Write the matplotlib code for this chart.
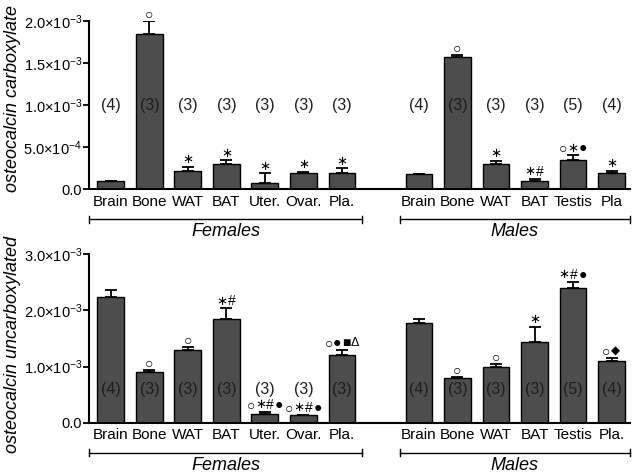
import matplotlib
matplotlib.use("Agg")
import matplotlib.pyplot as plt
import numpy as np
from matplotlib.transforms import blended_transform_factory

plt.rcParams['font.family'] = ['Liberation Sans', 'DejaVu Sans']
plt.rcParams['mathtext.fontset'] = 'custom'
plt.rcParams['mathtext.rm'] = 'Liberation Sans'
plt.rcParams['mathtext.it'] = 'Liberation Sans:italic'

# ---------------- data ----------------
cats_f = ['Brain', 'Bone', 'WAT', 'BAT', 'Uter.', 'Ovar.', 'Pla.']
cats_m_top = ['Brain', 'Bone', 'WAT', 'BAT', 'Testis', 'Pla']
cats_m_bot = ['Brain', 'Bone', 'WAT', 'BAT', 'Testis', 'Pla.']

carb_f = [1.0e-4, 1.845e-3, 2.21e-4, 2.97e-4, 7.5e-5, 1.97e-4, 1.94e-4]
carb_f_sem = [0.0, 1.55e-4, 4.7e-5, 5.1e-5, 1.19e-4, 1.2e-5, 5.5e-5]
carb_m = [1.82e-4, 1.575e-3, 3.0e-4, 9.9e-5, 3.48e-4, 1.94e-4]
carb_m_sem = [3e-6, 2.5e-5, 4.0e-5, 2.7e-5, 5.6e-5, 2.7e-5]

uncarb_f = [2.24e-3, 0.909e-3, 1.296e-3, 1.85e-3, 0.16e-3, 0.13e-3, 1.20e-3]
uncarb_f_sem = [0.12e-3, 0.036e-3, 0.054e-3, 0.19e-3, 0.036e-3, 0.012e-3, 0.096e-3]
uncarb_m = [1.777e-3, 0.80e-3, 1.0e-3, 1.438e-3, 2.40e-3, 1.10e-3]
uncarb_m_sem = [0.073e-3, 0.02e-3, 0.046e-3, 0.272e-3, 0.11e-3, 0.048e-3]

n_f = [4, 3, 3, 3, 3, 3, 3]
n_m = [4, 3, 3, 3, 5, 4]

sig_top_f = ['', '○', '∗', '∗', '∗', '∗', '∗']
sig_top_m = ['', '○', '∗', '∗#', '○∗●', '∗']
sig_bot_f = ['', '○', '○', '∗#', '○∗#●', '○∗#●', '○●■Δ']
sig_bot_m = ['', '○', '○', '∗', '∗#●', '○◆']

top_ticks = [0.0, 5.0e-4, 1.0e-3, 1.5e-3, 2.0e-3]
top_ticklabels = ['0.0', '5.0×10$^{-4}$', '1.0×10$^{-3}$', '1.5×10$^{-3}$', '2.0×10$^{-3}$']
bot_ticks = [0.0, 1.0e-3, 2.0e-3, 3.0e-3]
bot_ticklabels = ['0.0', '1.0×10$^{-3}$', '2.0×10$^{-3}$', '3.0×10$^{-3}$']

# symbol glyph styles: size (pt), advance (pt)
SYM_SIZE = {'○': 10, '●': 10, '■': 10, 'Δ': 9, '◆': 8.5, '∗': 9.5, '#': 10}
SYM_ADV = {'○': 6.2, '●': 6.2, '■': 6.2, 'Δ': 6.8, '◆': 7.2, '∗': 7.6, '#': 6.6}
SYM_FAM = {'∗': ['DejaVu Sans'], '◆': ['DejaVu Sans']}

# ---------------- layout ----------------
W, H = 638, 473
fig = plt.figure(figsize=(W / 100, H / 100), dpi=100)

def px_axes(left, top, right, bottom):
    return fig.add_axes([left / W, 1 - bottom / H, (right - left) / W, (bottom - top) / H])

ax_top = px_axes(89, 21, 630, 189.3)
ax_bot = px_axes(89, 254.3, 630, 422.7)

pos_f = np.arange(7)
pos_m = np.arange(6) + 8
BAR = '#4d4d4d'

def draw(ax, vf, ef, vm, em, ylim, ticks, ticklabels, cats_m, sig_f, sig_m, n_y, ylabel, ylab_y):
    allpos = np.concatenate([pos_f, pos_m])
    vals = list(vf) + list(vm)
    errs = list(ef) + list(em)
    ax.bar(allpos, vals, width=0.7, color=BAR, edgecolor='black', linewidth=1.0, zorder=2)
    ax.errorbar(allpos, vals, yerr=[np.zeros(len(vals)), errs], fmt='none',
                ecolor='black', elinewidth=1.3, capsize=4.5, capthick=1.3, zorder=3)
    ax.set_xlim(-0.57, 13.48)
    ax.set_ylim(*ylim)
    for s in ['top', 'right']:
        ax.spines[s].set_visible(False)
    for s in ['left', 'bottom']:
        ax.spines[s].set_linewidth(1.5)
    ax.set_yticks(ticks)
    ax.set_yticklabels(ticklabels, fontsize=10.5)
    ax.tick_params(axis='y', length=4, width=1.3, pad=1)
    ax.set_xticks(allpos)
    ax.set_xticklabels(list(cats_f) + list(cats_m), fontsize=11)
    ax.tick_params(axis='x', length=0, pad=4)
    # counts
    ns = list(n_f) + list(n_m)
    for x, n in zip(allpos, ns):
        ax.text(x, n_y, f'({n})', ha='center', va='center', fontsize=11.5,
                color='#1e1e1e', zorder=4)
    # significance markers, one glyph at a time
    sigs = list(sig_f) + list(sig_m)
    for x, v, e, s in zip(allpos, vals, errs, sigs):
        if not s:
            continue
        advs = [SYM_ADV[c] for c in s]
        total = sum(advs)
        cur = -total / 2
        for ch, a in zip(s, advs):
            dx = cur + a / 2
            cur += a
            ax.annotate(ch, (x, v + e), xytext=(dx, 5.0), textcoords='offset points',
                        ha='center', va='center', fontsize=SYM_SIZE[ch],
                        family=SYM_FAM.get(ch, ['Liberation Sans', 'DejaVu Sans']),
                        zorder=4)
    # group brackets
    tr = blended_transform_factory(ax.transData, ax.transAxes)
    h = ax.bbox.height
    ybr = -30 / h
    tick = 3.5 / h
    for x0, x1, label in [(-0.57, 6.52, 'Females'), (7.5, 13.48, 'Males')]:
        ax.plot([x0, x1], [ybr, ybr], color='black', lw=1.0, transform=tr, clip_on=False)
        for xx in (x0, x1):
            ax.plot([xx, xx], [ybr - tick, ybr + tick], color='black', lw=1.0,
                    transform=tr, clip_on=False)
        ax.text((x0 + x1) / 2, ybr - 12.5 / h, label, transform=tr, ha='center',
                va='center', fontsize=13, style='italic')
    fig.text(13 / W, 1 - ylab_y / H, ylabel, rotation=90, ha='center', va='center',
             fontsize=13, style='italic')

draw(ax_top, carb_f, carb_f_sem, carb_m, carb_m_sem, (0, 2.0e-3), top_ticks, top_ticklabels,
     cats_m_top, sig_top_f, sig_top_m, 1.0e-3, 'osteocalcin carboxylate', 98)
draw(ax_bot, uncarb_f, uncarb_f_sem, uncarb_m, uncarb_m_sem, (0, 3.0e-3), bot_ticks, bot_ticklabels,
     cats_m_bot, sig_bot_f, sig_bot_m, 0.6e-3, 'osteocalcin uncarboxylated', 344)

fig.savefig('out.png', dpi=100)
